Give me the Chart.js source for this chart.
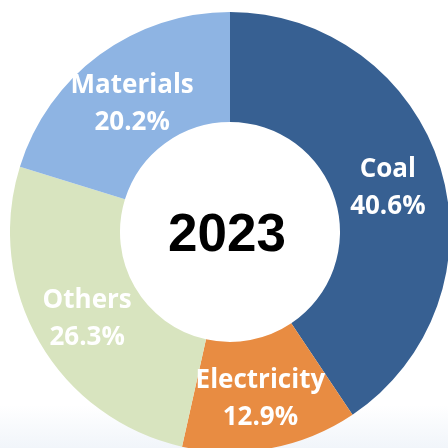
<!DOCTYPE html>
<html><head><meta charset="utf-8">
<script src="https://cdn.jsdelivr.net/npm/chart.js@4/dist/chart.umd.min.js"></script>
<style>
html,body{margin:0;padding:0;width:448px;height:448px;overflow:hidden;
background:linear-gradient(to bottom,#ffffff 0px,#ffffff 405px,#f1f5fa 448px);}
#wrap{position:absolute;left:10px;top:12px;width:440px;height:440px;}
</style></head><body>
<div id="wrap"><canvas id="c"></canvas></div>
<script>
const categories = ["Coal", "Electricity", "Others", "Materials"];
const shares = [40.6, 12.9, 26.3, 20.2];
const colors = ["#376092", "#e88c42", "#d8e4bf", "#8eb4e3"];
const centerTitle = "2023";

const labelPlugin = {
  id: 'sliceLabels',
  afterDatasetsDraw(chart) {
    const ctx = chart.ctx;
    const meta = chart.getDatasetMeta(0);
    ctx.save();
    ctx.fillStyle = '#ffffff';
    ctx.textAlign = 'center';
    ctx.textBaseline = 'middle';
    meta.data.forEach((arc, i) => {
      const mid = (arc.startAngle + arc.endAngle) / 2;
      const r = arc.outerRadius * 0.75;
      const x = arc.x + Math.cos(mid) * r;
      const y = arc.y + Math.sin(mid) * r;
      ctx.font = 'bold 26px "Open Sans", Lato, sans-serif';
      ctx.fillText(categories[i], x, y - 14);
      ctx.fillText(shares[i].toFixed(1) + '%', x, y + 23);
    });
    const a = meta.data[0];
    ctx.fillStyle = '#000000';
    ctx.font = 'bold 53px "Liberation Sans", Arial, sans-serif';
    ctx.fillText(centerTitle, a.x - 3, a.y + 4);
    ctx.restore();
  }
};

new Chart(document.getElementById('c'), {
  type: 'doughnut',
  data: {
    labels: categories,
    datasets: [{ data: shares, backgroundColor: colors, borderWidth: 0 }]
  },
  options: {
    responsive: true,
    maintainAspectRatio: false,
    animation: false,
    cutout: '50%',
    layout: { padding: 0 },
    plugins: { legend: { display: false }, tooltip: { enabled: false } }
  },
  plugins: [labelPlugin]
});
</script>
</body></html>
